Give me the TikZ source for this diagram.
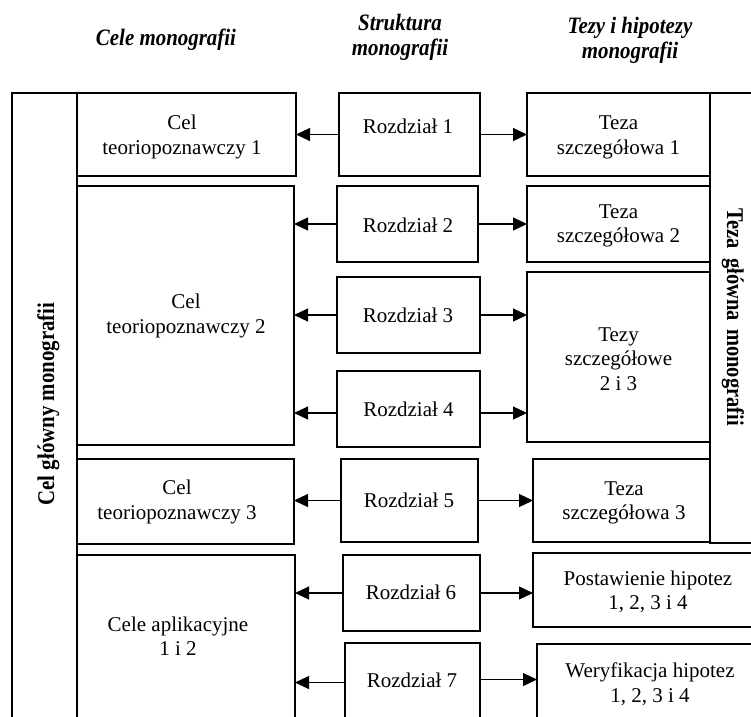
\documentclass[tikz,border=0pt]{standalone}
\usepackage{fontspec}
\setmainfont{Liberation Serif}
\usetikzlibrary{arrows.meta,fit}

\tikzset{
  frame/.style={draw, line width=2.6pt, inner sep=0pt, outer sep=0pt},
  boxtext/.style={font=\fontsize{21}{24.5}\selectfont, align=center, inner sep=0pt},
  head/.style={font=\fontsize{23.5}{25}\selectfont\bfseries\itshape, align=center, inner sep=0pt, xscale=0.89},
  side/.style={font=\fontsize{24}{25}\selectfont\bfseries, inner sep=0pt, anchor=base},
  link/.style={line width=1.2pt, -{Triangle[length=14pt,width=13pt]}},
}

\begin{document}
\begin{tikzpicture}[x=1pt,y=-1pt]
\useasboundingbox (0,0) rectangle (751,716);
\clip (0,0) rectangle (751,716);

% column headings
\node[head, anchor=base] (h1) at (166,45) {Cele monografii};
\node[head] (h2) at (400,37) {Struktura\\monografii};
\node[head] (h3) at (630,40) {Tezy i hipotezy\\monografii};

% side bars
\node[frame, fit={(12,93) (77,740)}] (goal) {};
\node[side, rotate=90, xscale=0.87] (goal-t) at (54,404) {Cel główny monografii};
\node[frame, fit={(710,93) (770,543)}] (thesis) {};
\node[side, rotate=-90, xscale=0.85] (thesis-t) at (727,317) {Teza\hspace{12pt}główna\hspace{10pt}monografii};

% goals
\node[frame, fit={(77,93) (296,176)}] (c1) {};
\node[frame, fit={(77,186) (294,445)}] (c2) {};
\node[frame, fit={(77,459) (294,544)}] (c3) {};
\node[frame, fit={(77,555) (295,740)}] (c4) {};
\node[boxtext] (c1-t) at (182,137) {Cel\\teoriopoznawczy 1};
\node[boxtext] (c2-t) at (186,316) {Cel\\teoriopoznawczy 2};
\node[boxtext] (c3-t) at (177,502) {Cel\\teoriopoznawczy 3};
\node[boxtext] (c4-t) at (178,636) {Cele aplikacyjne\\1 i 2};

% chapters
\node[frame, fit={(339,93) (480,176)}] (r1) {};
\node[frame, fit={(337,186) (478,262)}] (r2) {};
\node[frame, fit={(337,277) (480,353)}] (r3) {};
\node[frame, fit={(337,371) (480,447)}] (r4) {};
\node[frame, fit={(341,459) (478,542)}] (r5) {};
\node[frame, fit={(343,555) (480,631)}] (r6) {};
\node[frame, fit={(345,643) (480,718)}] (r7) {};
\node[boxtext] (r1-t) at (408,126) {Rozdział 1};
\node[boxtext] (r2-t) at (408,225) {Rozdział 2};
\node[boxtext] (r3-t) at (408,315) {Rozdział 3};
\node[boxtext] (r4-t) at (408.5,409.5) {Rozdział 4};
\node[boxtext] (r5-t) at (409,500.5) {Rozdział 5};
\node[boxtext] (r6-t) at (411,592.5) {Rozdział 6};
\node[boxtext] (r7-t) at (412,680.5) {Rozdział 7};

% theses and hypotheses
\node[frame, fit={(527,93) (710,176)}] (t1) {};
\node[frame, fit={(527,186) (710,262)}] (t2) {};
\node[frame, fit={(527,272) (710,442)}] (t23) {};
\node[frame, fit={(533,459) (710,542)}] (t3) {};
\node[frame, fit={(533,553) (770,627)}] (hp) {};
\node[frame, fit={(537,644) (770,740)}] (hv) {};
\node[boxtext] (t1-t) at (618.5,137.5) {Teza\\szczegółowa 1};
\node[boxtext] (t2-t) at (618.5,226) {Teza\\szczegółowa 2};
\node[boxtext] (t23-t) at (618.5,359) {Tezy\\szczegółowe\\2 i 3};
\node[boxtext] (t3-t) at (624,503) {Teza\\szczegółowa 3};
\node[boxtext] (hp-t) at (648,592) {Postawienie hipotez\\1, 2, 3 i 4};
\node[boxtext] (hv-t) at (650,684) {Weryfikacja hipotez\\1, 2, 3 i 4};

% chapters to goals
\draw[link] (r1.west) -- (r1.west -| c1.east);
\draw[link] (r2.west) -- (r2.west -| c2.east);
\draw[link] (r3.west) -- (r3.west -| c2.east);
\draw[link] ([yshift=-4pt]r4.west) -- ([yshift=-4pt]r4.west -| c2.east);
\draw[link] (r5.west) -- (r5.west -| c3.east);
\draw[link] (r6.west) -- (r6.west -| c4.east);
\draw[link] ([yshift=-2pt]r7.west) -- ([yshift=-2pt]r7.west -| c4.east);

% chapters to theses
\draw[link] (r1.east) -- (r1.east -| t1.west);
\draw[link] (r2.east) -- (r2.east -| t2.west);
\draw[link] (r3.east) -- (r3.east -| t23.west);
\draw[link] ([yshift=-4pt]r4.east) -- ([yshift=-4pt]r4.east -| t23.west);
\draw[link] (r5.east) -- (r5.east -| t3.west);
\draw[link] (r6.east) -- (r6.east -| hp.west);
\draw[link] ([yshift=1pt]r7.east) -- ([yshift=1pt]r7.east -| hv.west);
\end{tikzpicture}
\end{document}
